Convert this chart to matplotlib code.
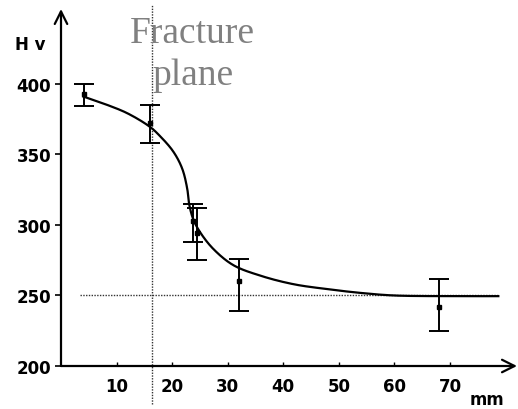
import matplotlib
matplotlib.use("Agg")
import matplotlib.pyplot as plt
import numpy as np

# measured hardness points (mm from edge, Hv) with asymmetric error bars
pos_mm = [4.1, 16.0, 23.8, 24.5, 32.0, 68.0]
hv = [393, 372, 303, 294, 260, 242]
err_low = [9, 14, 15, 19, 21, 17]
err_high = [7, 13, 12, 18, 16, 20]

# fitted curve
curve_x = [4.0, 8.0, 12.0, 16.0, 17.8, 20.2, 21.8, 22.7, 23.1, 23.8, 25.0,
           27.4, 31.0, 35.9, 41.8, 47.9, 53.9, 59.8, 70.0, 78.7]
curve_y = [391, 385.5, 379, 369.5, 363, 352, 340, 326, 314, 304, 295,
           283, 271.5, 264, 258, 254.5, 251.8, 250, 249.5, 249.5]

x_ticks = [10, 20, 30, 40, 50, 60, 70]
y_ticks = [200, 250, 300, 350, 400]
fracture_x = 16.4
base_hv = 250


def smooth_line(xs, ys, sx=5.557, sy=1.41, n=20):
    # centripetal Catmull-Rom through the read points, in screen-like units
    p = np.column_stack([np.array(xs) * sx, np.array(ys) * sy])
    p = np.vstack([2 * p[0] - p[1], p, 2 * p[-1] - p[-2]])
    out = []
    for i in range(1, len(p) - 2):
        p0, p1, p2, p3 = p[i - 1], p[i], p[i + 1], p[i + 2]
        t0 = 0.0
        t1 = t0 + np.linalg.norm(p1 - p0) ** 0.5
        t2 = t1 + np.linalg.norm(p2 - p1) ** 0.5
        t3 = t2 + np.linalg.norm(p3 - p2) ** 0.5
        t = np.linspace(t1, t2, n)[:, None]
        a1 = (t1 - t) / (t1 - t0) * p0 + (t - t0) / (t1 - t0) * p1
        a2 = (t2 - t) / (t2 - t1) * p1 + (t - t1) / (t2 - t1) * p2
        a3 = (t3 - t) / (t3 - t2) * p2 + (t - t2) / (t3 - t2) * p3
        b1 = (t2 - t) / (t2 - t0) * a1 + (t - t0) / (t2 - t0) * a2
        b2 = (t3 - t) / (t3 - t1) * a2 + (t - t1) / (t3 - t1) * a3
        c = (t2 - t) / (t2 - t1) * b1 + (t - t1) / (t2 - t1) * b2
        out.append(c)
    out = np.vstack(out)
    return out[:, 0] / sx, out[:, 1] / sy


fig = plt.figure(figsize=(5.18, 4.10), dpi=100)
ax = fig.add_axes([61 / 518, 43 / 410, 456 / 518, 357 / 410])
ax.set_xlim(0, 82.06)
ax.set_ylim(200, 453)

for s in ax.spines.values():
    s.set_visible(False)

# axes with arrow heads
arrow = dict(arrowstyle="->,head_length=0.9,head_width=0.45", color="black", lw=1.6,
             shrinkA=0, shrinkB=0)
ax.annotate("", xy=(1, 0), xytext=(0, 0), xycoords="axes fraction", arrowprops=arrow)
ax.annotate("", xy=(0, 1), xytext=(0, 0), xycoords="axes fraction", arrowprops=arrow)

ax.set_xticks(x_ticks)
ax.set_yticks(y_ticks)
ax.tick_params(axis="y", direction="out", length=4, width=1.2, pad=3)
ax.tick_params(axis="x", direction="in", length=3, width=1.0, pad=8)
for lab in ax.get_xticklabels() + ax.get_yticklabels():
    lab.set_fontweight("bold")
    lab.set_fontsize(12)
    lab.set_family("DejaVu Sans")

# reference lines
ax.plot([fracture_x, fracture_x], [173, 456], ls=(0, (1, 1)), color="#333333",
        lw=1.0, clip_on=False)
ax.plot([3.4, 78.7], [base_hv, base_hv], ls=(0, (1, 1)), color="#333333", lw=1.0)

# fitted curve
cx, cy = smooth_line(curve_x, curve_y)
ax.plot(cx, cy, color="black", lw=1.6, solid_joinstyle="round")

# data with error bars
ax.errorbar(pos_mm, hv, yerr=[err_low, err_high], fmt="s", color="black", ms=3.5,
            capsize=7, elinewidth=1.4, capthick=1.4)

fig.text(30 / 518, 1 - 45 / 410, "H v", ha="center", va="center", fontsize=12,
         fontweight="bold", family="DejaVu Sans")
fig.text(487 / 518, 1 - 400 / 410, "mm", ha="center", va="center", fontsize=12,
         fontweight="bold", family="DejaVu Sans")

fig.text(192 / 518, 1 - 43 / 410, "Fracture", ha="center", va="baseline", fontsize=27,
         color="#808080", family="Liberation Serif")
fig.text(193 / 518, 1 - 85 / 410, "plane", ha="center", va="baseline", fontsize=27,
         color="#808080", family="Liberation Serif")

fig.savefig("out.png", dpi=100)
